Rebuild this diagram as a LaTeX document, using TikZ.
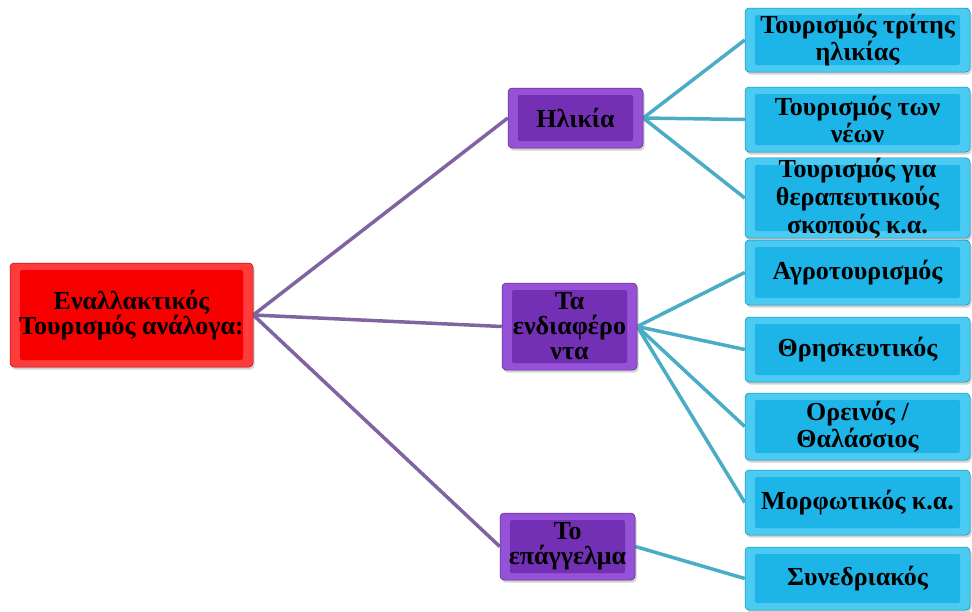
\documentclass[tikz,border=0pt]{standalone}
\usepackage{fontspec}
\setmainfont{Liberation Serif}
\usetikzlibrary{shadows,backgrounds}
\definecolor{rootred}{HTML}{F80000}
\definecolor{rootedge}{HTML}{FF3C3C}
\definecolor{midpurple}{HTML}{7430B4}
\definecolor{midedge}{HTML}{9552D6}
\definecolor{leafcyan}{HTML}{1DB4E8}
\definecolor{leafedge}{HTML}{4CCBF2}
\definecolor{linepurple}{HTML}{8064A2}
\definecolor{linecyan}{HTML}{4BACC6}
\begin{document}
\begin{tikzpicture}[x=1pt,y=-1pt,
  boxbase/.style n args={2}{rounded corners=4pt, draw=#1!75!black, line width=0.5pt,
    fill=#2, align=center, inner sep=0pt,
    font=\fontsize{26}{25}\selectfont\bfseries,
    drop shadow={opacity=0.35, shadow xshift=1.5pt, shadow yshift=-2.5pt, fill=gray},
    path picture={\fill[#1, rounded corners=2pt]
      ([shift={(10pt,-7pt)}]path picture bounding box.north west) rectangle
      ([shift={(-10pt,7pt)}]path picture bounding box.south east);}},
  rootbox/.style={boxbase={rootred}{rootedge}},
  midbox/.style={boxbase={midpurple}{midedge}},
  leafbox/.style={boxbase={leafcyan}{leafedge}, minimum width=225pt, font=\fontsize{26}{27}\selectfont\bfseries},
  plink/.style={draw=linepurple, line width=3.5pt},
  clink/.style={draw=linecyan, line width=3.5pt}
]
\useasboundingbox (0,0) rectangle (972,611);

\node[rootbox, minimum width=243pt, minimum height=104pt] (root) at (131.5,315) {\raisebox{-3pt}{\parbox{243pt}{\centering Εναλλακτικός\\Τουρισμός ανάλογα:}}};

\node[midbox, minimum width=135pt, minimum height=60pt] (age) at (575.5,118) {Ηλικία};
\node[midbox, minimum width=135pt, minimum height=87pt] (int) at (569.5,326.5) {Τα\\ενδιαφέρο\\ντα};
\node[midbox, minimum width=135pt, minimum height=67pt] (job) at (567.5,546.5) {Το\\επάγγελμα};

\node[leafbox, minimum height=64pt] (l1) at (857.5,40) {Τουρισμός τρίτης\\ηλικίας};
\node[leafbox, minimum height=65pt] (l2) at (857.5,119.5) {Τουρισμός των\\νέων};
\node[leafbox, minimum height=70pt, font=\fontsize{26}{28}\selectfont\bfseries] (l3) at (857.5,198) {Τουρισμός για\\θεραπευτικούς\\σκοπούς κ.α.};
\node[leafbox, minimum height=65pt] (l4) at (857.5,272.5) {Αγροτουρισμός};
\node[leafbox, minimum height=65pt] (l5) at (857.5,349.5) {Θρησκευτικός};
\node[leafbox, minimum height=67pt] (l6) at (857.5,426.5) {Ορεινός /\\Θαλάσσιος};
\node[leafbox, minimum height=65pt] (l7) at (857.5,502.5) {Μορφωτικός κ.α.};
\node[leafbox, minimum height=63pt] (l8) at (857.5,578.5) {Συνεδριακός};

\begin{scope}[on background layer]
  \draw[plink] (root.east) -- (age.west);
  \draw[plink] (root.east) -- (int.west);
  \draw[plink] (root.east) -- (job.west);
  \draw[clink] (age.east) -- (l1.west);
  \draw[clink] (age.east) -- (l2.west);
  \draw[clink] (age.east) -- (l3.west);
  \draw[clink] (int.east) -- (l4.west);
  \draw[clink] (int.east) -- (l5.west);
  \draw[clink] (int.east) -- (l6.west);
  \draw[clink] (int.east) -- (l7.west);
  \draw[clink] (job.east) -- (l8.west);
\end{scope}
\end{tikzpicture}
\end{document}
